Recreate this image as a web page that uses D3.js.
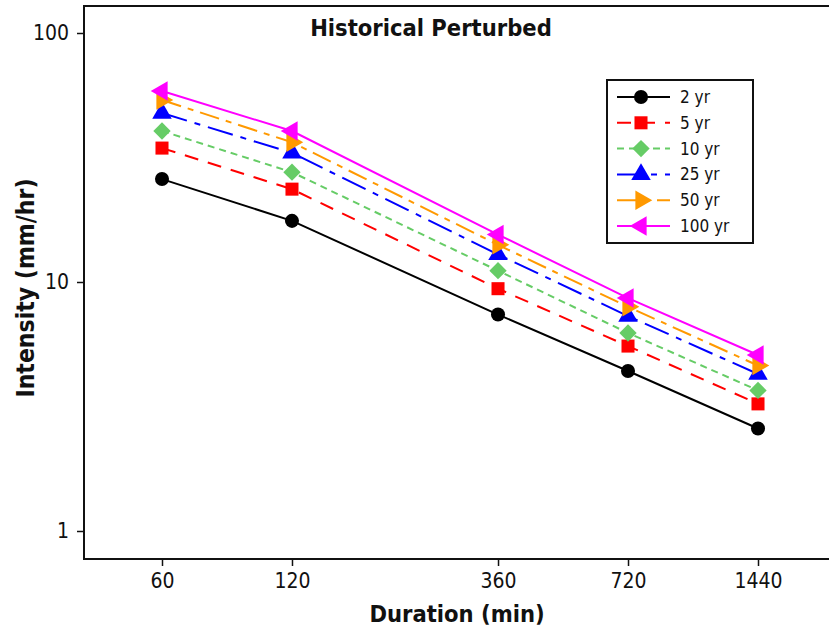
<!DOCTYPE html>
<html>
<head>
<meta charset="utf-8">
<script src="https://cdn.jsdelivr.net/npm/d3@7"></script>
<style>
  html, body { margin: 0; padding: 0; background: #fff; }
  svg { display: block; }
  text { font-family: "DejaVu Sans Condensed", "DejaVu Sans", sans-serif; }
</style>
</head>
<body>
<svg id="chart" width="829" height="635"></svg>
<script>
const durations = [60, 120, 360, 720, 1440];
const seriesNames = ["2 yr", "5 yr", "10 yr", "25 yr", "50 yr", "100 yr"];
const v2   = [25.9, 17.6, 7.4, 4.39, 2.58];
const v5   = [34.5, 23.6, 9.4, 5.53, 3.24];
const v10  = [40.4, 27.6, 11.1, 6.24, 3.67];
const v25  = [47.7, 33.0, 12.9, 7.3, 4.27];
const v50  = [53.8, 36.4, 14.1, 7.95, 4.62];
const v100 = [58.5, 40.4, 15.5, 8.62, 5.09];
const yTicks = [1, 10, 100];
const title = "Historical Perturbed";
const xTitle = "Duration (min)";
const yTitle = "Intensity (mm/hr)";

const allValues = [v2, v5, v10, v25, v50, v100];
const colors = ["#000000", "#ff0000", "#66cc66", "#0000ff", "#ff9900", "#ff00ff"];
const dashes = [null, "14,10", "7,5", "26,8,6,8", "20,7,6,7", null];
const symbols = [
  {type: d3.symbolCircle, size: 155, rot: 0},
  {type: d3.symbolSquare, size: 170, rot: 0},
  {type: d3.symbolSquare, size: 150, rot: 45},
  {type: d3.symbolTriangle, size: 165, rot: 0},
  {type: d3.symbolTriangle, size: 165, rot: 90},
  {type: d3.symbolTriangle, size: 165, rot: -90}
];

const svg = d3.select("#chart");
const pLeft = 84, pTop = 6, pBottom = 559, pRight = 829;

const x = d3.scaleLog().domain([60, 1440]).range([162, 758]);
const y = d3.scaleLog().domain([1, 100]).range([531, 33]);

// frame
svg.append("path")
  .attr("d", `M${pRight + 5},${pTop}H${pLeft}V${pBottom}H${pRight + 5}`)
  .attr("fill", "none").attr("stroke", "#111").attr("stroke-width", 2);

// y axis
const yAxis = d3.axisLeft(y).tickValues(yTicks).tickFormat(d3.format("d")).tickSize(7).tickPadding(8);
const gy = svg.append("g").attr("transform", `translate(${pLeft},0)`).call(yAxis);
gy.select(".domain").remove();
gy.selectAll(".tick line").attr("stroke", "#111").attr("stroke-width", 1.5);
gy.selectAll(".tick text").attr("font-size", 21).attr("fill", "#111");

// x axis
const xAxis = d3.axisBottom(x).tickValues(durations).tickFormat(d3.format("d")).tickSize(7).tickPadding(7);
const gx = svg.append("g").attr("transform", `translate(0,${pBottom})`).call(xAxis);
gx.select(".domain").remove();
gx.selectAll(".tick line").attr("stroke", "#111").attr("stroke-width", 1.5);
gx.selectAll(".tick text").attr("font-size", 21).attr("fill", "#111");

// titles
svg.append("text").attr("x", 431).attr("y", 36).attr("text-anchor", "middle")
  .attr("font-size", 23.5).attr("font-weight", "bold").attr("fill", "#111").text(title);
svg.append("text").attr("x", 457).attr("y", 622).attr("text-anchor", "middle")
  .attr("font-size", 23.5).attr("font-weight", "bold").attr("fill", "#111").text(xTitle);
svg.append("text").attr("transform", "translate(34,288) rotate(-90)").attr("text-anchor", "middle")
  .attr("font-size", 24.5).attr("font-weight", "bold").attr("fill", "#111").text(yTitle);

// lines
const line = d3.line().x((d, i) => x(durations[i])).y(d => y(d));
allValues.forEach((vals, k) => {
  svg.append("path").datum(vals)
    .attr("d", line).attr("fill", "none")
    .attr("stroke", colors[k]).attr("stroke-width", 2)
    .attr("stroke-dasharray", dashes[k]);
});
allValues.forEach((vals, k) => {
  const s = symbols[k];
  svg.append("g").selectAll("path").data(vals).join("path")
    .attr("d", d3.symbol().type(s.type).size(s.size))
    .attr("transform", (d, i) => `translate(${x(durations[i])},${y(d)}) rotate(${s.rot})`)
    .attr("fill", colors[k]);
});

// legend
const lg = svg.append("g");
lg.append("rect").attr("x", 607).attr("y", 80).attr("width", 146).attr("height", 163)
  .attr("fill", "#fff").attr("stroke", "#111").attr("stroke-width", 2);
seriesNames.forEach((name, k) => {
  const ly = 97 + k * 25.8;
  lg.append("line").attr("x1", 617).attr("x2", 670).attr("y1", ly).attr("y2", ly)
    .attr("stroke", colors[k]).attr("stroke-width", 2).attr("stroke-dasharray", dashes[k]);
  const s = symbols[k];
  lg.append("path").attr("d", d3.symbol().type(s.type).size(s.size))
    .attr("transform", `translate(641,${ly}) rotate(${s.rot})`).attr("fill", colors[k]);
  lg.append("text").attr("x", 680).attr("y", ly + 6).attr("font-size", 17).attr("fill", "#111").text(name);
});
</script>
</body>
</html>
